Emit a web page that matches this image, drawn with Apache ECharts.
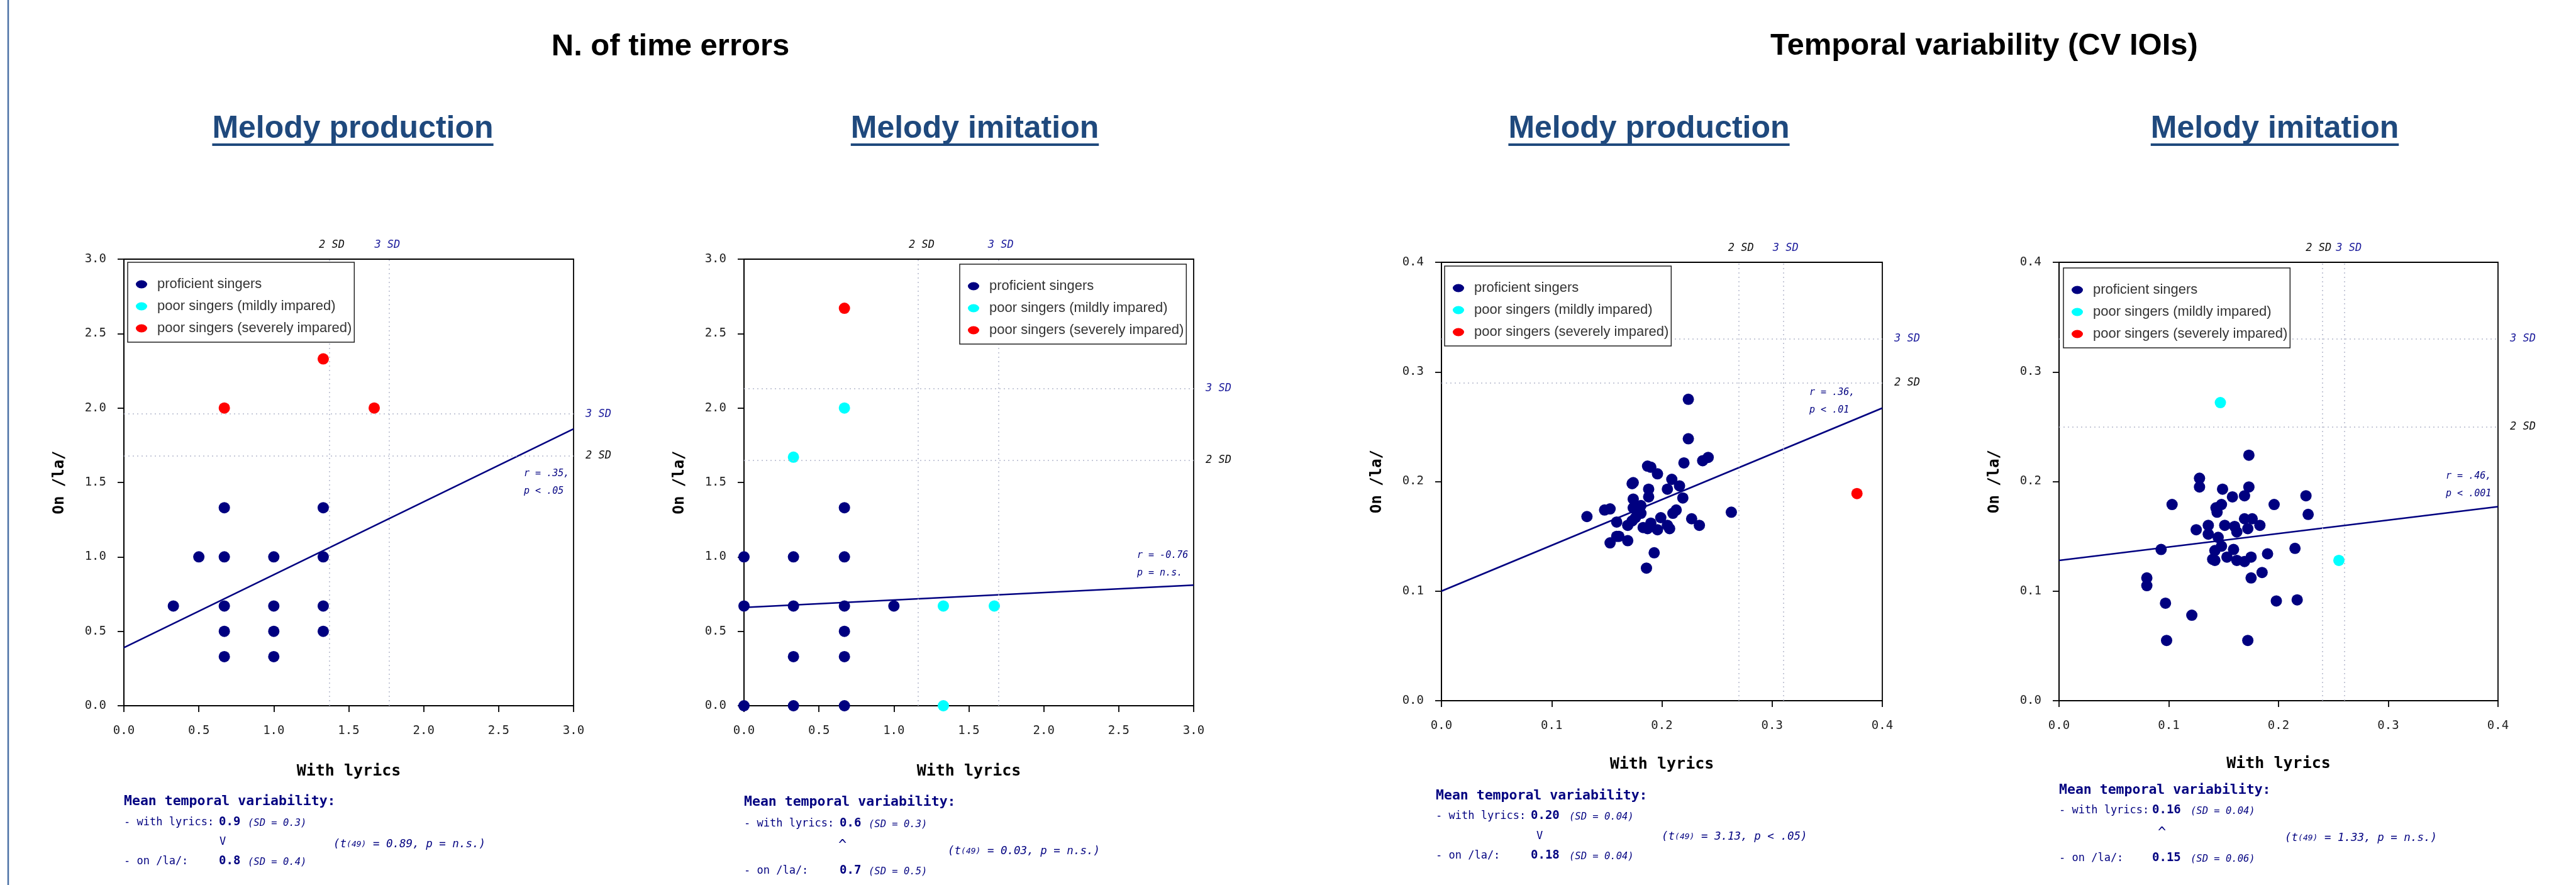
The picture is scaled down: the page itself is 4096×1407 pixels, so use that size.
<!DOCTYPE html>
<html>
<head>
<meta charset="utf-8">
<title>Time errors and temporal variability</title>
<script src="https://cdn.jsdelivr.net/npm/echarts@6/dist/echarts.min.js"></script>
<style>
  html, body { margin: 0; padding: 0; background: #fff; }
  #main { width: 4096px; height: 1407px; }
</style>
</head>
<body>
<div id="main"></div>
<script>
// ======== データ ========
const groupNames = ['proficient singers', 'poor singers (mildly impared)', 'poor singers (severely impared)'];
const errTicks = [0, 0.5, 1.0, 1.5, 2.0, 2.5, 3.0];
const cvTicks = [0, 0.1, 0.2, 0.3, 0.4];

// N. of time errors - melody production
const prodErrProf = [[0.33,0.67],[0.5,1.0],[0.67,1.0],[0.67,1.33],[0.67,0.67],[0.67,0.5],[0.67,0.33],
  [1.0,1.0],[1.0,0.67],[1.0,0.5],[1.0,0.33],[1.33,1.33],[1.33,1.0],[1.33,0.67],[1.33,0.5]];
const prodErrMild = [];
const prodErrSev = [[0.67,2.0],[1.33,2.33],[1.67,2.0]];
const prodErrFit = [[0,0.39],[3,1.86]];
const prodErrSdX = [1.37, 1.77];   // 2 SD, 3 SD
const prodErrSdY = [1.68, 1.96];
const prodErrCorr = ['r = .35,', 'p < .05'];
const prodErrStats = ['0.9', '(SD = 0.3)', 'V', '0.89, p = n.s.)', '0.8', '(SD = 0.4)'];

// N. of time errors - melody imitation
const imitErrProf = [[0,1.0],[0,0.67],[0,0],[0.33,1.0],[0.33,0.67],[0.33,0.33],[0.33,0],
  [0.67,1.33],[0.67,1.0],[0.67,0.67],[0.67,0.5],[0.67,0.33],[0.67,0],[1.0,0.67]];
const imitErrMild = [[0.33,1.67],[0.67,2.0],[1.33,0.67],[1.67,0.67],[1.33,0]];
const imitErrSev = [[0.67,2.67]];
const imitErrFit = [[0,0.66],[3,0.81]];
const imitErrSdX = [1.16, 1.70];
const imitErrSdY = [1.65, 2.13];
const imitErrCorr = ['r = -0.76', 'p = n.s.'];
const imitErrStats = ['0.6', '(SD = 0.3)', '^', '0.03, p = n.s.)', '0.7', '(SD = 0.5)'];

// Temporal variability - melody production
const prodCvProf = [[0.132,0.168],[0.148,0.174],[0.153,0.175],[0.159,0.163],[0.153,0.144],[0.159,0.150],
  [0.161,0.150],[0.169,0.146],[0.169,0.160],[0.173,0.198],[0.174,0.199],[0.174,0.184],[0.174,0.176],
  [0.176,0.167],[0.173,0.164],[0.178,0.171],[0.181,0.178],[0.181,0.171],[0.183,0.158],[0.187,0.214],
  [0.190,0.213],[0.188,0.193],[0.188,0.186],[0.187,0.157],[0.190,0.162],[0.196,0.207],[0.196,0.156],
  [0.193,0.135],[0.186,0.121],[0.199,0.167],[0.205,0.193],[0.209,0.202],[0.205,0.160],[0.207,0.157],
  [0.210,0.171],[0.213,0.174],[0.216,0.196],[0.219,0.185],[0.220,0.217],[0.224,0.275],[0.224,0.239],
  [0.227,0.166],[0.234,0.160],[0.237,0.219],[0.242,0.222],[0.263,0.172]];
const prodCvMild = [];
const prodCvSev = [[0.377,0.189]];
const prodCvFit = [[0,0.100],[0.4,0.267]];
const prodCvSdX = [0.268, 0.310];
const prodCvSdY = [0.294, 0.331];
const prodCvCorr = ['r = .36,', 'p < .01'];
const prodCvStats = ['0.20', '(SD = 0.04)', 'V', '3.13, p < .05)', '0.18', '(SD = 0.04)'];

// Temporal variability - melody imitation
const imitCvProf = [[0.173,0.224],[0.128,0.203],[0.128,0.195],[0.149,0.193],[0.173,0.195],[0.158,0.186],
  [0.169,0.187],[0.103,0.179],[0.196,0.179],[0.225,0.187],[0.227,0.170],[0.143,0.176],[0.148,0.179],
  [0.144,0.172],[0.169,0.166],[0.176,0.166],[0.136,0.160],[0.151,0.160],[0.160,0.159],[0.162,0.154],
  [0.172,0.157],[0.183,0.160],[0.125,0.156],[0.136,0.152],[0.145,0.149],[0.148,0.141],[0.142,0.137],
  [0.159,0.138],[0.093,0.138],[0.140,0.129],[0.142,0.128],[0.153,0.131],[0.162,0.128],[0.169,0.127],
  [0.175,0.131],[0.190,0.134],[0.215,0.139],[0.185,0.117],[0.175,0.112],[0.080,0.112],[0.080,0.105],
  [0.097,0.089],[0.121,0.078],[0.198,0.091],[0.217,0.092],[0.098,0.055],[0.172,0.055]];
const imitCvMild = [[0.147,0.272],[0.255,0.128]];
const imitCvSev = [];
const imitCvFit = [[0,0.128],[0.4,0.177]];
const imitCvSdX = [0.237, 0.264];
const imitCvSdY = [0.250, 0.326];
const imitCvCorr = ['r = .46,', 'p < .001'];
const imitCvStats = ['0.16', '(SD = 0.04)', '^', '1.33, p = n.s.)', '0.15', '(SD = 0.06)'];

// ======== レイアウト ========
const mono = '"DejaVu Sans Mono", monospace';
const sans = '"Liberation Sans", Arial, sans-serif';
const NAVY = '#000080';
const SD3 = '#1c1c9c';

const panels = [
  { box:{left:197, top:412, width:715, height:710}, ticks:errTicks, prof:prodErrProf, mild:prodErrMild, sev:prodErrSev,
    fit:prodErrFit, sdX:prodErrSdX, sdY:prodErrSdY, corr:prodErrCorr, stats:prodErrStats, xGap:92, sdShift:[4,-3],
    leg:{left:203, top:417}, corrPos:[833, 753], title:'Melody production', titleX:561,
    tb:{x:197, mean:1282, withL:1314, arrow:1345, t:1349, on:1376, val:151, sd:197, ar:152, tx:333} },
  { box:{left:1183, top:412, width:715, height:710}, ticks:errTicks, prof:imitErrProf, mild:imitErrMild, sev:imitErrSev,
    fit:imitErrFit, sdX:imitErrSdX, sdY:imitErrSdY, corr:imitErrCorr, stats:imitErrStats, xGap:92, sdShift:[6,3],
    leg:{left:1526, top:420}, corrPos:[1808, 883], title:'Melody imitation', titleX:1550,
    tb:{x:1183, mean:1283, withL:1316, arrow:1352, t:1360, on:1391, val:152, sd:198, ar:150, tx:324} },
  { box:{left:2292, top:417, width:701, height:697}, ticks:cvTicks, prof:prodCvProf, mild:prodCvMild, sev:prodCvSev,
    fit:prodCvFit, sdX:prodCvSdX, sdY:prodCvSdY, corr:prodCvCorr, stats:prodCvStats, xGap:89, sdShift:[3,4],
    leg:{left:2297, top:423}, corrPos:[2877, 624], title:'Melody production', titleX:2622,
    tb:{x:2283, mean:1273, withL:1304, arrow:1336, t:1337, on:1367, val:151, sd:212, ar:160, tx:359} },
  { box:{left:3274, top:417, width:698, height:697}, ticks:cvTicks, prof:imitCvProf, mild:imitCvMild, sev:imitCvSev,
    fit:imitCvFit, sdX:imitCvSdX, sdY:imitCvSdY, corr:imitCvCorr, stats:imitCvStats, xGap:88, sdShift:[-6,7],
    leg:{left:3281, top:426}, corrPos:[3889, 757], title:'Melody imitation', titleX:3617,
    tb:{x:3274, mean:1264, withL:1295, arrow:1332, t:1339, on:1371, val:148, sd:209, ar:157, tx:359} }
];

const chart = echarts.init(document.getElementById('main'));

// テキスト幅の計測（下線用）
const mctx = document.createElement('canvas').getContext('2d');
function textW(font, s){ mctx.font = font; return mctx.measureText(s).width; }

// baseline指定で中央揃えのテキストを置く
function txt(x, baseline, text, size, weight, style, fill, align, family){
  const font = `${style||'normal'} ${weight||'normal'} ${size}px ${family||mono}`;
  return { type:'text', x, y: baseline - size*0.35, silent:true, z:20,
    style:{ text, font, fill: fill||NAVY, align: align||'left', textAlign: align||'left', verticalAlign:'middle', textVerticalAlign:'middle' } };
}

const grids = [], xAxes = [], yAxes = [], series = [], legends = [], graphics = [];

function axisCommon(ticks){
  return {
    type:'value', min:ticks[0], max:ticks[ticks.length-1], interval:ticks[1]-ticks[0],
    splitLine:{show:false},
    axisLine:{show:true, onZero:false, lineStyle:{color:'#000', width:1.8}},
    axisTick:{show:true, inside:false, length:10, lineStyle:{color:'#000', width:1.8}},
    axisLabel:{fontFamily:mono, fontSize:19, color:'#222', formatter:(v)=>v.toFixed(1)},
    nameLocation:'middle',
    nameTextStyle:{fontFamily:mono, fontWeight:'bold', fontSize:25, color:'#000'}
  };
}

panels.forEach((p, i)=>{
  grids.push(Object.assign({show:true, borderColor:'#000', borderWidth:1.8, backgroundColor:'transparent'}, p.box));

  const xa = axisCommon(p.ticks);
  xa.gridIndex = i; xa.name = 'With lyrics'; xa.nameGap = p.xGap;
  xa.axisLabel = Object.assign({}, xa.axisLabel, {margin:31});
  xAxes.push(xa);

  const ya = axisCommon(p.ticks);
  ya.gridIndex = i; ya.name = 'On /la/'; ya.nameGap = 90;
  ya.nameTextStyle = Object.assign({}, ya.nameTextStyle, {fontSize:24});
  ya.axisLabel = Object.assign({}, ya.axisLabel, {margin:28});
  yAxes.push(ya);

  // SD基準線（点線）
  series.push({
    name:'sd-lines', type:'line', xAxisIndex:i, yAxisIndex:i, data:[], z:1, silent:true,
    markLine:{
      silent:true, symbol:['none','none'], animation:false,
      lineStyle:{type:[2,5], color:'#b4b8cc', width:1.5},
      label:{show:true, position:'end', formatter:(q)=>q.name, fontFamily:mono, fontStyle:'italic', fontSize:17},
      data:[
        {name:'2 SD', xAxis:p.sdX[0], label:{color:'#111', distance:14, offset:[p.sdShift[0], 0]}},
        {name:'3 SD', xAxis:p.sdX[1], label:{color:SD3, distance:14, offset:[p.sdShift[1], 0]}},
        {name:'2 SD', yAxis:p.sdY[0], label:{color:'#111', distance:19}},
        {name:'3 SD', yAxis:p.sdY[1], label:{color:SD3, distance:19}}
      ]
    }
  });

  [[p.prof, NAVY], [p.mild, '#00FFFF'], [p.sev, '#FF0000']].forEach(([d, c], k)=>{
    series.push({ name:groupNames[k], type:'scatter', xAxisIndex:i, yAxisIndex:i, data:d,
      symbol:'circle', symbolSize:18, itemStyle:{color:c, opacity:1}, z:3 });
  });

  series.push({ name:'regression', type:'line', xAxisIndex:i, yAxisIndex:i, data:p.fit,
    symbol:'none', lineStyle:{color:NAVY, width:2.6}, z:4, silent:true });

  legends.push({
    data:groupNames, orient:'vertical', left:p.leg.left, top:p.leg.top,
    padding:[24, 4, 11, 13], itemGap:13, itemWidth:18, itemHeight:13,
    icon:'path://M0,6.5A9,6.5 0 1,0 18,6.5A9,6.5 0 1,0 0,6.5Z',
    textStyle:{fontFamily:sans, fontSize:22, color:'#333', lineHeight:22, padding:[0,0,0,11]},
    backgroundColor:'#fff', borderColor:'#222', borderWidth:1.5, z:10, selectedMode:false
  });

  // サブタイトル + 下線
  const tFont = `bold 50px ${sans}`;
  const tw = textW(tFont, p.title);
  graphics.push(txt(p.titleX, 223, p.title, 50, 'bold', 'normal', '#1F497D', 'center', sans));
  graphics.push({ type:'rect', silent:true, z:20, shape:{x:p.titleX - tw/2, y:228, width:tw, height:4}, style:{fill:'#1F497D'} });

  // r / p
  graphics.push(txt(p.corrPos[0], p.corrPos[1] + 5, p.corr[0], 15, 'normal', 'italic', NAVY, 'left'));
  graphics.push(txt(p.corrPos[0], p.corrPos[1] + 33, p.corr[1], 15, 'normal', 'italic', NAVY, 'left'));

  // 平均値ブロック
  const b = p.tb, s = p.stats;
  graphics.push(txt(b.x, b.mean, 'Mean temporal variability:', 21.5, 'bold', 'normal', NAVY));
  graphics.push(txt(b.x, b.withL, '- with lyrics:', 17, 'normal', 'normal', NAVY));
  graphics.push(txt(b.x + b.val, b.withL, s[0], 19, 'bold', 'normal', NAVY));
  graphics.push(txt(b.x + b.sd, b.withL, s[1], 15.5, 'normal', 'italic', NAVY));
  graphics.push(txt(b.x + b.ar, b.arrow, s[2], s[2] === '^' ? 22 : 17, 'normal', 'normal', NAVY));
  graphics.push({ type:'text', x:b.x + b.tx, y:b.t - 17.5*0.35, silent:true, z:20,
    style:{ text:'{a|(t}{b|(49)}{a| = ' + s[3] + '}', verticalAlign:'middle', textVerticalAlign:'middle',
      rich:{ a:{font:`italic 17.5px ${mono}`, fill:NAVY}, b:{font:`italic 13px ${mono}`, fill:NAVY} } } });
  graphics.push(txt(b.x, b.on, '- on /la/:', 17, 'normal', 'normal', NAVY));
  graphics.push(txt(b.x + b.val, b.on, s[4], 19, 'bold', 'normal', NAVY));
  graphics.push(txt(b.x + b.sd, b.on, s[5], 15.5, 'normal', 'italic', NAVY));
});

// 大見出し・左の枠線
graphics.push(txt(1066, 92, 'N. of time errors', 49, 'bold', 'normal', '#000', 'center', sans));
graphics.push(txt(3155, 91, 'Temporal variability (CV IOIs)', 49, 'bold', 'normal', '#000', 'center', sans));
graphics.push({ type:'line', silent:true, z:20, shape:{x1:13, y1:0, x2:13, y2:1407}, style:{stroke:'#4a6fa5', lineWidth:2.5} });

chart.setOption({
  animation:false,
  backgroundColor:'#fff',
  grid:grids, xAxis:xAxes, yAxis:yAxes,
  legend:legends,
  series:series,
  graphic:{ elements:graphics }
});
</script>
</body>
</html>
